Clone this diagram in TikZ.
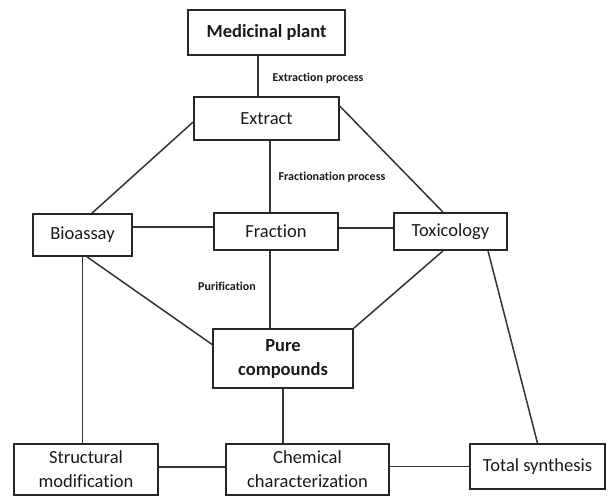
\documentclass[tikz,border=0pt]{standalone}
\usepackage{fontspec}
\setmainfont{Carlito}[Ligatures=NoCommon]
\begin{document}
\begin{tikzpicture}[x=1pt,y=-1pt,
  box/.style={draw=black!85,line width=1.7pt,inner sep=0pt,align=center,
    font=\fontsize{18.5}{24}\selectfont,text=black!90},
  bbox/.style={box,font=\fontsize{18.5}{24}\selectfont\bfseries},
  conn/.style={draw=black!80,line width=1.5pt},
  lbl/.style={font=\fontsize{12}{14}\selectfont\bfseries,text=black!90,inner sep=0pt}]
\useasboundingbox (0,0) rectangle (608,497);
\node[bbox,minimum width=157pt,minimum height=45pt] (mp) at (266.5,32.5) {Medicinal plant};
\node[box,minimum width=145pt,minimum height=43pt] (ex) at (266.5,118.5) {Extract};
\node[box,minimum width=99pt,minimum height=42pt] (bio) at (82.5,235) {Bioassay};
\node[box,minimum width=124pt,minimum height=37pt] (fr) at (276,231.5) {Fraction};
\node[box,minimum width=113pt,minimum height=37pt] (tox) at (450.5,231.5) {Toxicology};
\node[bbox,minimum width=140pt,minimum height=59pt] (pc) at (283,358.5) {Pure\\compounds};
\node[box,minimum width=144pt,minimum height=51pt] (sm) at (86,469.5) {Structural\\modification};
\node[box,minimum width=163pt,minimum height=51pt] (cc) at (307.5,469.5) {Chemical\\characterization};
\node[box,minimum width=135pt,minimum height=45pt] (ts) at (537.5,466.5) {Total synthesis};
\node[lbl] (l1) at (318,78) {Extraction process};
\node[lbl] (l2) at (332,177) {Fractionation process};
\node[lbl] (l3) at (227,286) {Purification};
\path[conn] ([xshift=-8.5pt]mp.south) -- ([xshift=-8.5pt]ex.north);
\path[conn] ([yshift=-3.5pt]ex.west) -- ([xshift=9.5pt]bio.north);
\path[conn] ([yshift=-10pt]ex.north east) -- ([xshift=-7.5pt]tox.north);
\path[conn] ([xshift=3.5pt]ex.south) -- ([xshift=3.5pt]ex.south |- fr.north);
\path[conn] ([yshift=8pt]bio.east) -- ([yshift=8pt]bio.east -| fr.west);
\path[conn] ([yshift=3.5pt]fr.east) -- ([yshift=3.5pt]fr.east -| tox.west);
\path[conn] ([xshift=-6pt]fr.south) -- ([xshift=-6pt]fr.south |- pc.north);
\path[conn] (bio.south) -- (bio.south |- sm.north);
\path[conn] ([xshift=4.5pt]bio.south) -- ([yshift=14pt]pc.west);
\path[conn] ([xshift=-7.5pt]tox.south) -- (pc.north east);
\path[conn] ([xshift=37.5pt]tox.south) -- (ts.north);
\path[conn] (pc.south) -- (pc.south |- cc.north);
\path[conn] ([yshift=2.5pt]sm.east) -- ([yshift=2.5pt]sm.east -| cc.west);
\path[conn] (cc.east |- ts.west) -- (ts.west);
\end{tikzpicture}
\end{document}
